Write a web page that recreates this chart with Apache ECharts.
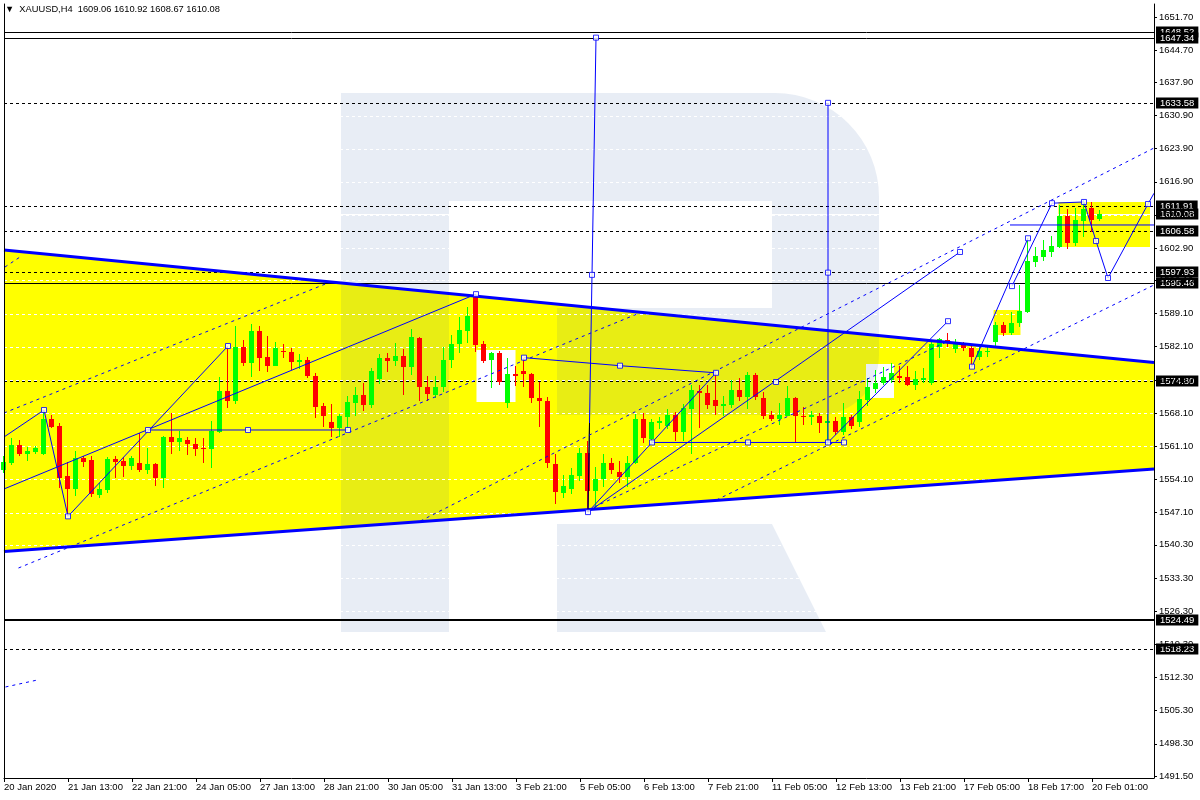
<!DOCTYPE html>
<html><head><meta charset="utf-8">
<script src="https://cdn.jsdelivr.net/npm/echarts@6.0.0/dist/echarts.min.js"></script>
<style>html,body{margin:0;padding:0;background:#fff}#c{width:1200px;height:800px}</style>
</head><body><div id="c"></div><script>
const symbolName = 'XAUUSD,H4';
const xTickLabels = ['20 Jan 2020','21 Jan 13:00','22 Jan 21:00','24 Jan 05:00','27 Jan 13:00','28 Jan 21:00','30 Jan 05:00','31 Jan 13:00','3 Feb 21:00','5 Feb 05:00','6 Feb 13:00','7 Feb 21:00','11 Feb 05:00','12 Feb 13:00','13 Feb 21:00','17 Feb 05:00','18 Feb 17:00','20 Feb 01:00'];
const yTickLabels = [1491.50,1498.30,1505.30,1512.30,1519.30,1526.30,1533.30,1540.30,1547.10,1554.10,1561.10,1568.10,1575.10,1582.10,1589.10,1596.10,1602.90,1609.90,1616.90,1623.90,1630.90,1637.90,1644.70,1651.70];
// [open, close, low, high] per H4 bar
const ohlc = [
[1556.1,1557.8,1555.5,1559.0],[1557.6,1561.4,1557.2,1562.8],[1561.4,1559.5,1559.05,1562.4],[1559.5,1560.1,1558.05,1561.0],
[1559.9,1560.8,1559.5,1561.2],[1559.5,1566.85,1559.3,1568.75],[1566.85,1565.1,1564.9,1567.7],[1565.4,1554.5,1552.35,1566.1],
[1554.9,1552.1,1546.3,1557.7],[1552.1,1558.7,1550.7,1560.0],[1558.7,1557.8,1556.8,1559.1],[1558.2,1551.0,1550.45,1559.05],
[1550.8,1552.1,1550.1,1553.3],[1551.9,1558.4,1551.2,1558.9],[1558.4,1557.8,1554.5,1559.1],[1558.0,1557.0,1554.7,1558.9],
[1557.0,1558.7,1556.1,1559.1],[1557.5,1556.0,1555.7,1563.8],[1556.0,1557.35,1555.2,1560.8],[1557.35,1554.5,1552.8,1557.5],
[1554.5,1563.1,1552.3,1563.3],[1563.1,1562.05,1559.47,1568.05],[1562.05,1562.9,1560.2,1564.3],[1562.4,1561.5,1559.25,1563.1],
[1561.5,1560.5,1559.1,1562.9],[1560.8,1560.45,1557.5,1562.9],[1560.45,1564.3,1556.45,1566.4],[1564.2,1572.75,1563.8,1575.8],
[1572.75,1570.65,1569.25,1582.26],[1570.65,1582.1,1570.0,1586.5],[1582.1,1578.75,1578.0,1583.5],[1578.75,1585.4,1575.8,1587.0],
[1585.4,1579.8,1577.0,1586.5],[1580.0,1578.1,1576.85,1584.4],[1578.1,1581.9,1578.1,1583.0],[1581.3,1581.0,1579.8,1582.6],
[1581.0,1578.9,1577.2,1581.9],[1578.9,1579.3,1577.5,1580.5],[1579.3,1576.0,1575.5,1580.0],[1576.0,1569.45,1567.0,1576.5],
[1569.6,1567.5,1565.2,1570.3],[1566.2,1565.0,1563.1,1569.95],[1565.0,1567.5,1563.1,1568.0],[1567.35,1570.4,1565.0,1571.7],
[1570.3,1571.9,1567.5,1573.7],[1571.9,1569.8,1568.5,1574.4],[1569.8,1576.95,1569.25,1577.7],[1575.3,1579.8,1574.2,1580.6],
[1579.8,1579.1,1576.7,1580.85],[1579.1,1580.15,1578.0,1582.95],[1580.15,1577.8,1571.9,1581.6],[1577.8,1584.2,1576.1,1585.8],
[1584.0,1573.5,1570.7,1584.2],[1573.5,1572.1,1570.7,1575.9],[1571.9,1573.7,1571.2,1575.9],[1573.5,1579.2,1572.6,1582.1],
[1579.2,1582.7,1577.55,1584.6],[1582.7,1585.6,1580.7,1588.45],[1585.5,1588.6,1582.8,1590.55],[1593.0,1582.5,1581.05,1593.2],
[1582.6,1579.1,1578.75,1583.3],[1579.2,1580.7,1573.3,1580.9],[1580.7,1574.75,1574.05,1581.2],[1570.2,1576.3,1569.1,1579.65],
[1576.3,1576.0,1573.8,1578.0],[1576.95,1576.3,1573.7,1579.8],[1576.3,1571.2,1570.3,1576.5],[1571.2,1570.65,1565.2,1574.75],
[1570.65,1557.5,1556.45,1571.4],[1557.35,1551.4,1548.85,1559.5],[1551.3,1552.7,1550.2,1555.0],[1552.0,1555.0,1551.0,1556.6],
[1554.9,1559.6,1553.8,1560.7],[1559.6,1551.7,1547.2,1562.2],[1551.7,1554.2,1547.8,1556.8],[1554.2,1557.5,1552.6,1559.4],
[1557.5,1556.1,1555.2,1558.7],[1555.6,1554.7,1553.3,1558.0],[1554.7,1557.5,1552.45,1559.05],[1557.5,1566.85,1557.3,1567.85],
[1566.85,1562.9,1561.85,1568.05],[1562.55,1566.15,1561.75,1566.8],[1566.05,1566.5,1564.7,1567.3],[1565.4,1567.7,1564.7,1568.9],
[1567.7,1564.05,1562.2,1568.3],[1564.05,1569.25,1562.3,1570.0],[1568.95,1572.95,1559.4,1574.0],[1572.75,1572.25,1565.0,1574.0],
[1572.4,1569.8,1569.0,1574.0],[1570.85,1569.6,1567.7,1576.6],[1569.6,1570.0,1567.5,1571.6],[1569.8,1572.95,1569.25,1575.0],
[1572.95,1571.55,1570.65,1575.45],[1571.55,1576.15,1569.0,1576.85],[1576.15,1571.55,1570.9,1576.6],[1571.35,1567.55,1566.9,1572.6],
[1567.7,1566.8,1566.4,1568.5],[1566.8,1567.7,1565.5,1570.3],[1567.5,1571.2,1567.5,1573.8],[1571.2,1567.5,1561.85,1571.5],
[1567.5,1567.4,1565.6,1569.3],[1567.3,1567.6,1565.6,1568.5],[1567.5,1566.0,1563.9,1568.2],[1566.0,1566.4,1561.4,1568.0],
[1566.4,1564.2,1563.5,1567.2],[1564.2,1567.2,1563.5,1570.3],[1567.2,1565.45,1564.7,1567.7],[1566.3,1571.1,1565.2,1572.75],
[1570.85,1573.55,1569.65,1575.45],[1573.2,1574.5,1572.25,1577.2],[1574.4,1575.8,1574.0,1577.9],[1575.1,1576.5,1574.4,1578.7],
[1576.0,1575.6,1574.4,1578.05],[1575.65,1574.0,1573.8,1578.0],[1574.0,1575.3,1573.0,1576.9],[1575.1,1575.6,1574.4,1577.6],
[1574.4,1582.6,1574.0,1583.15],[1582.1,1583.7,1579.8,1584.0],[1583.6,1583.3,1582.1,1584.95],[1581.55,1582.6,1580.7,1583.7],
[1582.6,1581.8,1581.2,1583.2],[1581.9,1580.0,1577.9,1582.4],[1580.0,1581.2,1579.3,1582.0],[1581.0,1581.3,1580.0,1582.0],
[1583.15,1586.7,1581.8,1587.4],[1586.7,1584.95,1584.3,1587.4],[1584.95,1587.2,1584.6,1589.5],[1587.05,1589.65,1586.3,1595.1],
[1589.4,1600.2,1589.15,1605.0],[1600.05,1601.3,1599.0,1603.2],[1601.1,1602.5,1600.3,1604.6],[1602.05,1603.4,1601.0,1605.5],
[1603.2,1609.75,1602.9,1612.0],[1609.75,1603.9,1602.75,1611.2],[1603.9,1608.85,1603.3,1611.3],[1608.7,1611.1,1605.3,1613.1],
[1611.35,1608.85,1606.4,1612.7],[1609.06,1610.08,1608.67,1610.92]
];
const solidLevels = [1648.52, 1647.34, 1595.46];
const thickLevels = [1524.49];
const dashedLevels = [1633.58, 1611.91, 1606.58, 1597.93, 1574.80, 1518.23];
const tagValues = [1648.52, 1647.34, 1633.58, 1611.91, 1610.08, 1606.58, 1597.93, 1595.46, 1574.80, 1524.49, 1518.23];
const thickLines = [
  [[0,1602.54],[143.75,1578.78]],
  [[0,1538.89],[143.75,1556.30]]
];
const solidLines = [
  [[0,1563.05],[5,1568.75],[8,1546.3],[28,1582.26]],
  [[0,1552.08],[59,1593.2]],
  [[18,1564.53],[43,1564.53]],
  [[65,1579.8],[77,1578.1],[89,1576.6]],
  [[73,1547.2],[89,1576.6]],
  [[81,1561.9],[105,1561.9]],
  [[73,1547.2],[74,1647.34]],
  [[103,1561.9],[103,1633.58]],
  [[73,1547.2],[119.5,1602.1]],
  [[103,1561.9],[118,1587.5]],
  [[121,1577.9],[128,1605.0]],
  [[126,1594.9],[131,1612.4],[135,1612.66],[136.5,1604.42],[138,1596.61],[143,1612.23],[143.75,1614.5]],
  [[125.75,1607.8],[143.75,1607.8]]
];
const blackSegments = [
  [[73,1547.2],[73.19,1566.0]]
];
const dashedLines = [
  [[0,1568.12],[40.8,1595.77]],
  [[1.81,1535.4],[79.7,1589.4]],
  [[52.06,1545.33],[143.75,1624.05]],
  [[73,1547.65],[117.8,1583.1]],
  [[89.06,1549.76],[143.75,1595.14]],
  [[0.19,1510.29],[4.19,1511.77]],
  [[0.12,1598.93],[2.0,1601.04]]
];
const markerPoints = [[5,1568.75],[8,1546.3],[28,1582.26],[18,1564.53],[30.5,1564.53],[43,1564.53],[59,1593.2],[65,1579.8],[77,1578.1],[89,1576.6],[73,1547.2],[74,1647.34],[73.5,1597.27],[81,1561.9],[93,1561.9],[103,1561.9],[105,1561.9],[103,1633.58],[103,1597.74],[96.5,1574.66],[119.5,1602.1],[118,1587.5],[121,1577.9],[128,1605.0],[126,1594.9],[131,1612.4],[135,1612.66],[136.5,1604.42],[138,1596.61],[143,1612.23]];
const yellowAreas = [
  [[0,1602.54],[143.75,1578.78],[143.75,1556.30],[0,1538.89]],
  [[131.8,1612.65],[143.25,1612.65],[143.25,1603.16],[131.8,1603.16]],
  [[123.7,1589.86],[127.06,1589.86],[127.06,1584.58],[123.7,1584.58]]
];
const whiteAreas = [
  [[59.06,1581.42],[63.94,1581.42],[63.94,1570.45],[59.06,1570.45]],
  [[107.75,1578.46],[111.25,1578.46],[111.25,1571.29],[107.75,1571.29]]
];

const X_MIN = 0, X_MAX = 143.75, Y_MIN = 1491.08, Y_MAX = 1654.44;
const FONT = 'Liberation Sans, DejaVu Sans, sans-serif';
const BLUE = '#0000ff';
const LOGO_PATH = 'M341,93 L775,93 A104,104 0 0 1 879,197 L879,355 A60,60 0 0 1 819,415 L557,415 L557,308 L772,308 L772,201 L449,201 L449,632 L341,632 Z M557,524 L772,524 L826,632 L557,632 Z';
const last = ohlc[ohlc.length - 1];
const chart = echarts.init(document.getElementById('c'), null, {renderer: 'canvas'});

function areaSeries(list, color, z) {
  return {
    type: 'custom', z: z, silent: true, animation: false,
    data: list.map((_, i) => [i]),
    renderItem: (params, api) => ({
      type: 'polygon',
      shape: {points: list[params.dataIndex].map(p => api.coord(p))},
      style: {fill: color}
    })
  };
}
function lineSeries(list, style, z) {
  return {
    type: 'custom', z: z, silent: true, animation: false,
    data: list.map((_, i) => [i]),
    renderItem: (params, api) => ({
      type: 'polyline',
      shape: {points: list[params.dataIndex].map(p => api.coord(p))},
      style: Object.assign({fill: null}, style)
    })
  };
}
function levelSeries(list, style, z) {
  return {
    type: 'custom', z: z, silent: true, animation: false,
    data: list.map(v => [0, v]),
    renderItem: (params, api) => {
      const v = api.value(1);
      const a = api.coord([X_MIN, v]), b = api.coord([X_MAX, v]);
      const y = Math.round(a[1]) + (style.lineWidth % 2 ? 0.5 : 0);
      return {type: 'line', shape: {x1: a[0], y1: y, x2: b[0], y2: y}, style: Object.assign({}, style)};
    }
  };
}

const option = {
  animation: false,
  backgroundColor: '#ffffff',
  title: {
    text: '\u25BC  ' + symbolName + '  ' + [last[0], last[3], last[2], last[1]].map(v => v.toFixed(2)).join(' '),
    left: 5, top: 5, padding: 0,
    textStyle: {fontFamily: FONT, fontSize: 9.3, fontWeight: 'normal', color: '#000'}
  },
  grid: {left: 4, right: 46, top: 4, bottom: 22},
  xAxis: {
    type: 'value', min: X_MIN, max: X_MAX, z: 10,
    splitLine: {show: false},
    axisLine: {show: true, onZero: false, lineStyle: {color: '#000', width: 1}},
    axisTick: {show: true, length: 4, lineStyle: {color: '#000'}, customValues: xTickLabels.map((_, i) => i * 8)},
    axisLabel: {
      customValues: xTickLabels.map((_, i) => i * 8),
      formatter: v => xTickLabels[Math.round(v / 8)] || '',
      align: 'left', margin: 4, color: '#000', fontFamily: FONT, fontSize: 9.5
    }
  },
  yAxis: [{
    type: 'value', position: 'right', min: Y_MIN, max: Y_MAX, z: 10,
    splitLine: {show: false},
    axisLine: {show: true, onZero: false, lineStyle: {color: '#000', width: 1}},
    axisTick: {show: true, length: 3, lineStyle: {color: '#000'}, customValues: yTickLabels},
    axisLabel: {
      customValues: yTickLabels,
      formatter: v => Number(v).toFixed(2),
      margin: 5, color: '#000', fontFamily: FONT, fontSize: 9.5
    }
  }, {
    type: 'value', position: 'left', min: Y_MIN, max: Y_MAX, z: 10,
    splitLine: {show: false},
    axisLine: {show: true, onZero: false, lineStyle: {color: '#000', width: 1}},
    axisTick: {show: false}, axisLabel: {show: false}
  }],
  series: [
    areaSeries(yellowAreas, '#ffff00', 1),
    areaSeries(whiteAreas, '#ffffff', 1),
    {
      type: 'custom', z: 2, silent: true, animation: false,
      data: [[0, Y_MIN]],
      renderItem: () => ({
        type: 'path',
        shape: {pathData: LOGO_PATH, x: 341, y: 93, width: 538, height: 539},
        style: {fill: 'rgba(60,102,170,0.118)'}
      })
    },
    levelSeries(yTickLabels, {stroke: '#ffffff', lineWidth: 1, lineDash: [3, 3]}, 3),
    levelSeries([last[1]], {stroke: '#ffffff', lineWidth: 1}, 3),
    levelSeries(solidLevels, {stroke: '#000', lineWidth: 1}, 4),
    levelSeries(thickLevels, {stroke: '#000', lineWidth: 2}, 4),
    levelSeries(dashedLevels, {stroke: '#000', lineWidth: 1, lineDash: [3, 3]}, 4),
    {
      type: 'custom', z: 5, silent: true, animation: false,
      data: ohlc.map((d, i) => [i, d[0], d[1], d[2], d[3]]),
      renderItem: (params, api) => {
        const k = api.value(0), o = api.value(1), c = api.value(2), l = api.value(3), h = api.value(4);
        const pO = api.coord([k, o]), pC = api.coord([k, c]), pL = api.coord([k, l]), pH = api.coord([k, h]);
        const x = Math.floor(pO[0] - 0.5) + 0.5;
        const col = c >= o ? '#00ff00' : '#ff0000';
        const top = Math.round(Math.min(pO[1], pC[1])), bot = Math.round(Math.max(pO[1], pC[1]));
        return {type: 'group', children: [
          {type: 'line', shape: {x1: x, y1: Math.round(pH[1]), x2: x, y2: Math.round(pL[1])}, style: {stroke: col, lineWidth: 1}},
          {type: 'rect', shape: {x: x - 2.5, y: top, width: 5, height: Math.max(1, bot - top)}, style: {fill: col}}
        ]};
      }
    },
    lineSeries(thickLines, {stroke: BLUE, lineWidth: 3}, 6),
    lineSeries(solidLines, {stroke: BLUE, lineWidth: 1}, 6),
    lineSeries(blackSegments, {stroke: '#000', lineWidth: 1}, 6),
    lineSeries(dashedLines, {stroke: BLUE, lineWidth: 1, lineDash: [3, 4]}, 6),
    {
      type: 'scatter', z: 7, silent: true, animation: false,
      symbol: 'rect', symbolSize: 5,
      itemStyle: {color: '#ffffff', borderColor: BLUE, borderWidth: 1},
      data: markerPoints
    },
    {
      type: 'custom', z: 8, silent: true, animation: false,
      data: tagValues.map(v => [X_MAX, v]),
      renderItem: (params, api) => {
        const p = api.coord([X_MAX, api.value(1)]);
        return {
          type: 'text',
          x: p[0] + 2, y: Math.round(p[1]),
          style: {
            text: api.value(1).toFixed(2), fill: '#ffffff', backgroundColor: '#000000',
            padding: [1, 4, 0, 4], fontFamily: FONT, fontSize: 9.5,
            align: 'left', verticalAlign: 'middle'
          }
        };
      }
    }
  ]
};
chart.setOption(option);
</script></body></html>
